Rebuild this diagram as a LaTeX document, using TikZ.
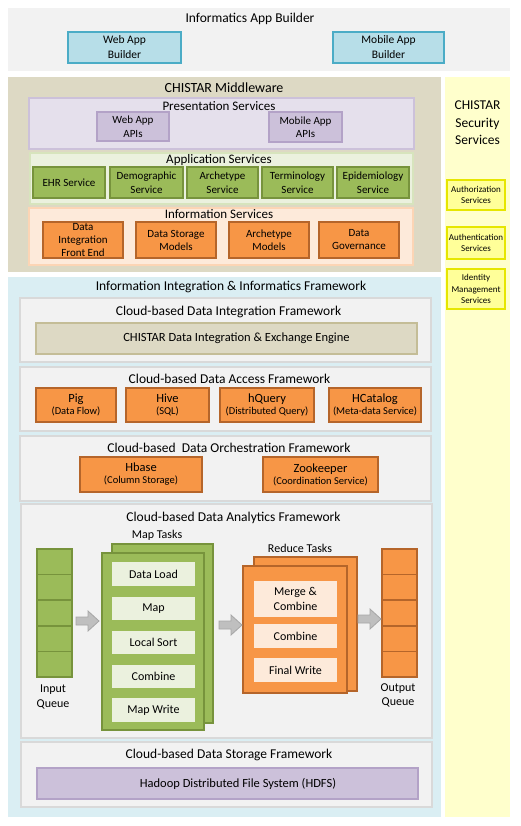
\documentclass[tikz,border=0pt]{standalone}
\usepackage{fontspec}
\setmainfont{Carlito}
\definecolor{topgray}{HTML}{F2F2F2}
\definecolor{blfill}{HTML}{B7DEE8}
\definecolor{bldraw}{HTML}{4BACC6}
\definecolor{mytan}{HTML}{DDD9C4}
\definecolor{mytandraw}{HTML}{C4BD97}
\definecolor{secy}{HTML}{FFFFCC}
\definecolor{yfill}{HTML}{FFFF99}
\definecolor{ydraw}{HTML}{E6E600}
\definecolor{pufill}{HTML}{E5E0EC}
\definecolor{pudraw}{HTML}{CCC1DA}
\definecolor{pubox}{HTML}{CCC1DA}
\definecolor{puboxd}{HTML}{B3A2C7}
\definecolor{grfill}{HTML}{EBF1DE}
\definecolor{grdraw}{HTML}{D7E4BD}
\definecolor{grbox}{HTML}{9BBB59}
\definecolor{grboxd}{HTML}{77933C}
\definecolor{orfill}{HTML}{FDEADA}
\definecolor{ordraw}{HTML}{FCD5B5}
\definecolor{orbox}{HTML}{F79646}
\definecolor{orboxd}{HTML}{B5652A}
\definecolor{iifw}{HTML}{DAEEF3}
\definecolor{fwfill}{HTML}{F2F2F2}
\definecolor{fwdraw}{HTML}{D9D9D9}
\definecolor{arfill}{HTML}{BFBFBF}
\definecolor{ardraw}{HTML}{A6A6A6}
\newcommand\fsz[2]{\fontsize{#1}{#2}\selectfont}
\newcommand\bx[7]{\node[bxbase,#2,minimum width={(#5)-(#3)},minimum height={(#6)-(#4)}] (#1) at ({((#3)+(#5))/2},{((#4)+(#6))/2}) {#7};}
\newcommand\barrow[4]{%
  \coordinate (#1s) at (#2,#4);
  \coordinate (#1e) at (#3,#4);
  \draw[arrowst] (#1s) ++(0,-4) -- ++(12,0) -- ++(0,-6) -- (#1e) -- ++(-11,10) -- ++(0,-6) -- ++(-12,0) -- cycle;}
\tikzset{
  bxbase/.style={inner sep=0pt,outer sep=0pt,align=center,text=black},
  ttl/.style={inner sep=0pt,outer sep=0pt,align=center,font=\fsz{13.5}{16}},
  appb/.style={fill=blfill,draw=bldraw,line width=1.5pt,font=\fsz{11.5}{15}},
  secb/.style={fill=yfill,draw=ydraw,line width=1.5pt,font=\fsz{9}{11.5}},
  prc/.style={fill=pufill,draw=pudraw,line width=1.5pt},
  apib/.style={fill=pubox,draw=puboxd,line width=1.5pt,font=\fsz{11}{13.5}},
  grc/.style={fill=grfill,draw=grdraw,line width=1.5pt},
  grb/.style={fill=grbox,draw=grboxd,line width=1.5pt,font=\fsz{11}{13.5}},
  orc/.style={fill=orfill,draw=ordraw,line width=1.5pt},
  orb/.style={fill=orbox,draw=orboxd,line width=1.5pt,font=\fsz{11}{13}},
  fwc/.style={fill=fwfill,draw=fwdraw,line width=1.5pt},
  accb/.style={fill=orbox,draw=orboxd,line width=1.5pt,font=\fsz{12.5}{14}},
  qcell/.style={fill=grbox,draw=grboxd,line width=1.5pt},
  oqcell/.style={fill=orbox,draw=orboxd,line width=1.5pt},
  mapst/.style={fill=grbox,draw=grboxd,line width=2pt},
  redst/.style={fill=orbox,draw=orboxd,line width=2pt},
  mapin/.style={fill=grfill,font=\fsz{12}{14}},
  redin/.style={fill=orfill,font=\fsz{12}{14.5}},
  lbl/.style={inner sep=0pt,outer sep=0pt,align=center,font=\fsz{12}{14.5}},
  arrowst/.style={fill=arfill,draw=ardraw,line width=0.8pt},
}
\begin{document}
\begin{tikzpicture}[x=1pt,y=-1pt]
\useasboundingbox (0,0) rectangle (521,826);
\fill[white] (0,0) rectangle (521,826);
% Informatics App Builder
\bx{top}{fill=topgray}{8}{8}{510}{71}{}
\node[ttl] (topT) at (250,19) {Informatics App Builder};
\bx{webb}{appb}{68}{32}{181}{63}{Web App\\Builder}
\bx{mobb}{appb}{333}{32}{444}{63}{Mobile App\\Builder}
% Security
\bx{sec}{fill=secy}{445}{77}{510}{817}{}
\node[ttl,font=\fsz{13.5}{17.5}] (secT) at (477.5,123) {CHISTAR\\Security\\Services};
\bx{authz}{secb}{447}{180}{505}{210}{Authorization\\Services}
\bx{authn}{secb}{447}{227}{505}{259}{Authentication\\Services}
\bx{idm}{secb}{447}{269}{505}{309}{Identity\\Management\\Services}
% Middleware
\bx{mid}{fill=mytan}{8}{77}{441}{272}{}
\node[ttl,font=\fsz{14}{16}] (midT) at (224,88) {CHISTAR Middleware};
\bx{pres}{prc}{29}{98}{414}{149}{}
\node[ttl,font=\fsz{13}{15}] (presT) at (219,106) {Presentation Services};
\bx{webapi}{apib}{97}{112}{169}{141}{Web App\\APIs}
\bx{mobapi}{apib}{269}{112}{342}{142}{Mobile App\\APIs}
\bx{appl}{grc}{30}{153}{413}{204}{}
\node[ttl,font=\fsz{13}{15}] (applT) at (219,160) {Application Services};
\bx{ehr}{grb}{33}{167}{105}{198}{EHR Service}
\bx{demo}{grb}{110}{167}{183}{198}{Demographic\\Service}
\bx{arch}{grb}{187}{167}{258}{198}{Archetype\\Service}
\bx{term}{grb}{262}{167}{333}{198}{Terminology\\Service}
\bx{epid}{grb}{337}{167}{409}{198}{Epidemiology\\Service}
\bx{info}{orc}{29}{208}{413}{265}{}
\node[ttl,font=\fsz{13}{15}] (infoT) at (219,214) {Information Services};
\bx{difront}{orb}{43}{222}{123}{258}{Data\\Integration\\Front End}
\bx{dsm}{orb}{136}{222}{216}{258}{Data Storage\\Models}
\bx{am}{orb}{229}{222}{309}{258}{Archetype\\Models}
\bx{dg}{orb}{319}{222}{399}{258}{Data\\Governance}
% Information Integration & Informatics Framework
\bx{iif}{fill=iifw}{8}{277}{441}{817}{}
\node[ttl] (iifT) at (231,287) {Information Integration \& Informatics Framework};
\bx{dif}{fwc}{20}{298}{431}{362}{}
\node[ttl] (difT) at (228.5,312) {Cloud-based Data Integration Framework};
\bx{engine}{fill=mytan,draw=mytandraw,line width=1.5pt,font=\fsz{12.5}{15}}{36}{323}{417}{354}{\hspace*{20pt}CHISTAR Data Integration \& Exchange Engine}
\bx{daf}{fwc}{20}{367}{431}{431}{}
\node[ttl] (dafT) at (229.5,379) {Cloud-based Data Access Framework};
\bx{pig}{accb}{36}{388}{116}{422}{Pig\\[-2pt]{\fsz{10.5}{12}(Data Flow)}}
\bx{hive}{accb}{126}{388}{209}{422}{Hive\\[-2pt]{\fsz{10.5}{12}(SQL)}}
\bx{hq}{accb}{220}{388}{314}{422}{hQuery\\[-2pt]{\fsz{10.5}{12}(Distributed Query)}}
\bx{hcat}{accb}{329}{388}{421}{422}{HCatalog\\[-2pt]{\fsz{10.5}{12}(Meta-data Service)}}
\bx{dof}{fwc}{20}{436}{431}{501}{}
\node[ttl] (dofT) at (229,448) {Cloud-based\ \ Data Orchestration Framework};
\bx{hbase}{accb}{80}{457}{202}{492}{Hbase\\[-2pt]{\fsz{10.5}{12}(Column Storage)}}
\bx{zoo}{accb}{263}{457}{378}{492}{Zookeeper\\[-2pt]{\fsz{10.5}{12}(Coordination Service)}}
% Analytics
\bx{daa}{fwc}{21}{504}{432}{738}{}
\node[ttl] (daaT) at (233.5,518) {Cloud-based Data Analytics Framework};
\node[lbl] (mapL) at (157,535) {Map Tasks};
\node[lbl] (redL) at (300,548) {Reduce Tasks};
\foreach \i in {0,...,4}{
  \bx{inq\i}{qcell}{37}{549+25.6*\i}{72}{549+25.6*(\i+1)}{}
  \bx{outq\i}{oqcell}{382}{549+25.6*\i}{417}{549+25.6*(\i+1)}{}
}
\node[lbl] (inqL) at (53,697) {Input\\Queue};
\node[lbl] (outqL) at (398,695.5) {Output\\Queue};
\bx{mapB}{mapst}{112}{544}{213}{723}{}
\bx{mapF}{mapst}{102}{553}{204}{730}{}
\bx{dload}{mapin}{112}{562}{195}{586}{Data Load}
\bx{mapp}{mapin}{112}{597}{195}{620}{Map}
\bx{lsort}{mapin}{112}{631}{195}{654}{Local Sort}
\bx{mcomb}{mapin}{112}{665}{195}{688}{Combine}
\bx{mwrite}{mapin}{112}{698}{195}{722}{Map Write}
\bx{redB}{redst}{254}{557}{357}{691}{}
\bx{redF}{redst}{243}{566}{347}{693}{}
\bx{merge}{redin}{254}{581}{337}{617}{Merge \&\\Combine}
\bx{rcomb}{redin}{254}{624}{337}{648}{Combine}
\bx{fwrite}{redin}{254}{658}{337}{682}{Final Write}
\barrow{a1}{76}{99}{621}
\barrow{a2}{219}{242}{625}
\barrow{a3}{358}{381}{619}
% Storage
\bx{dsf}{fwc}{21}{742}{432}{807}{}
\node[ttl] (dsfT) at (229,755) {Cloud-based Data Storage Framework};
\bx{hdfs}{fill=pubox,draw=puboxd,line width=1.5pt,font=\fsz{12.5}{15}}{37}{768}{418}{799}{\hspace*{21pt}Hadoop Distributed File System (HDFS)}
\end{tikzpicture}
\end{document}
